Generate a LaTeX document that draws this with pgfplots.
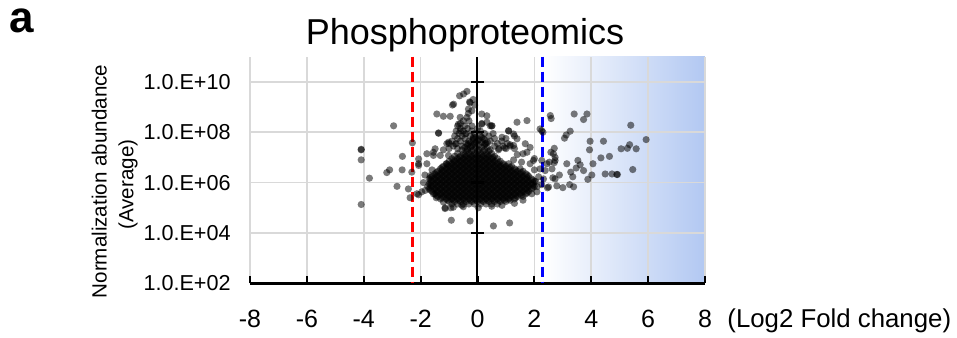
\documentclass[border=0pt]{standalone}
\usepackage{pgfplots}
\pgfplotsset{compat=1.18}
\usepackage{fontspec}
\setmainfont{Liberation Sans}
\definecolor{gblue}{RGB}{178,200,242}
\definecolor{gridgray}{RGB}{217,217,217}
\pgfplotsset{dots/.style={only marks, mark=*, mark size=1.8pt, draw=none, mark options={fill=black, draw opacity=0, fill opacity=0.52}}}
\begin{document}
\begin{tikzpicture}
\path (0,0) rectangle (478.5pt,-168.5pt);
\node[anchor=base west, inner sep=0pt, font=\fontsize{22pt}{25pt}\selectfont\bfseries] at (4.5pt,-16.2pt) {a};
\node[anchor=base, inner sep=0pt, font=\fontsize{18pt}{21pt}\selectfont] at (232.5pt,-22.3pt) {Phosphoproteomics};
\node[rotate=90, anchor=base, inner sep=0pt, font=\fontsize{10.3pt}{12pt}\selectfont] at (53.35pt,-90.75pt) {Normalization abundance};
\node[rotate=90, anchor=base, inner sep=0pt, font=\fontsize{10.3pt}{12pt}\selectfont] at (66.65pt,-92.3pt) {(Average)};
\node[anchor=base west, inner sep=0pt, font=\fontsize{12.9pt}{15pt}\selectfont] at (363.5pt,-163.6pt) {(Log2 Fold change)};
\begin{axis}[
  at={(125pt,-141.65pt)}, anchor=south west,
  width=227.5pt, height=113.3pt, scale only axis,
  set layers,
  ymode=log, xmin=-8, xmax=8, ymin=1e2, ymax=1e11,
  axis x line*=bottom, axis y line*=left,
  x axis line style={black, line width=1.2pt, -},
  y axis line style={draw=none},
  xtick={-8,-6,-4,-2,0,2,4,6,8},
  xticklabels={-8,-6,-4,-2,0,2,4,6,8},
  ytick={1e2,1e4,1e6,1e8,1e10},
  yticklabels={1.0.E+02,1.0.E+04,1.0.E+06,1.0.E+08,1.0.E+10},
  tick align=inside,
  major tick length=3.5pt,
  xtick style={black, line width=1.1pt},
  ytick style={draw=none},
  grid=major, major grid style={gridgray, line width=0.75pt},
  xticklabel style={anchor=base, inner sep=0pt, yshift=-21.9pt, font=\fontsize{12.5pt}{14pt}\selectfont},
  yticklabel style={anchor=east, inner sep=0pt, xshift=-9.5pt, font=\fontsize{10.8pt}{13pt}\selectfont},
  /pgf/number format/assume math mode=true,
]
\begin{pgfonlayer}{axis background}
\fill[left color=white, right color=gblue] (axis cs:2.3,1e2) rectangle (axis cs:8,1e11);
\end{pgfonlayer}
\draw[red, line width=1.45pt, dash pattern=on 5pt off 2.5pt] (axis cs:-2.27,1e11) -- (axis cs:-2.27,1e2);
\draw[blue, line width=1.45pt, dash pattern=on 5pt off 2.5pt] (axis cs:2.29,1e11) -- (axis cs:2.29,1e2);
% dense core
\addplot[dots] coordinates {
(-0.9,1.41e5) (-0.7,1.41e5) (-0.5,1.41e5) (-0.3,1.41e5) (-0.1,1.41e5) (0.1,1.41e5) (0.3,1.41e5) (0.5,1.41e5) (0.7,1.41e5)
(-1,1.78e5) (-0.8,1.78e5) (-0.6,1.78e5) (-0.4,1.78e5) (-0.2,1.78e5) (0,1.78e5) (0.2,1.78e5) (0.4,1.78e5) (0.6,1.78e5) (0.8,1.78e5) (1,1.78e5)
(-1.3,2.24e5) (-1.1,2.24e5) (-0.9,2.24e5) (-0.7,2.24e5) (-0.5,2.24e5) (-0.3,2.24e5) (-0.1,2.24e5) (0.1,2.24e5) (0.3,2.24e5) (0.5,2.24e5) (0.7,2.24e5) (0.9,2.24e5) (1.1,2.24e5) (1.3,2.24e5)
(-1.4,2.82e5) (-1.2,2.82e5) (-1,2.82e5) (-0.8,2.82e5) (-0.6,2.82e5) (-0.4,2.82e5) (-0.2,2.82e5) (0,2.82e5) (0.2,2.82e5) (0.4,2.82e5) (0.6,2.82e5) (0.8,2.82e5) (1,2.82e5) (1.2,2.82e5) (1.4,2.82e5) (1.6,2.82e5)
(-1.5,3.55e5) (-1.3,3.55e5) (-1.1,3.55e5) (-0.9,3.55e5) (-0.7,3.55e5) (-0.5,3.55e5) (-0.3,3.55e5) (-0.1,3.55e5) (0.1,3.55e5) (0.3,3.55e5) (0.5,3.55e5) (0.7,3.55e5) (0.9,3.55e5) (1.1,3.55e5) (1.3,3.55e5) (1.5,3.55e5) (1.7,3.55e5)
(-1.6,4.47e5) (-1.4,4.47e5) (-1.2,4.47e5) (-1,4.47e5) (-0.8,4.47e5) (-0.6,4.47e5) (-0.4,4.47e5) (-0.2,4.47e5) (0,4.47e5) (0.2,4.47e5) (0.4,4.47e5) (0.6,4.47e5) (0.8,4.47e5) (1,4.47e5) (1.2,4.47e5) (1.4,4.47e5) (1.6,4.47e5) (1.8,4.47e5)
(-1.7,5.62e5) (-1.5,5.62e5) (-1.3,5.62e5) (-1.1,5.62e5) (-0.9,5.62e5) (-0.7,5.62e5) (-0.5,5.62e5) (-0.3,5.62e5) (-0.1,5.62e5) (0.1,5.62e5) (0.3,5.62e5) (0.5,5.62e5) (0.7,5.62e5) (0.9,5.62e5) (1.1,5.62e5) (1.3,5.62e5) (1.5,5.62e5) (1.7,5.62e5) (1.9,5.62e5)
(-1.6,7.08e5) (-1.4,7.08e5) (-1.2,7.08e5) (-1,7.08e5) (-0.8,7.08e5) (-0.6,7.08e5) (-0.4,7.08e5) (-0.2,7.08e5) (0,7.08e5) (0.2,7.08e5) (0.4,7.08e5) (0.6,7.08e5) (0.8,7.08e5) (1,7.08e5) (1.2,7.08e5) (1.4,7.08e5) (1.6,7.08e5) (1.8,7.08e5) (2,7.08e5)
(-1.7,8.91e5) (-1.5,8.91e5) (-1.3,8.91e5) (-1.1,8.91e5) (-0.9,8.91e5) (-0.7,8.91e5) (-0.5,8.91e5) (-0.3,8.91e5) (-0.1,8.91e5) (0.1,8.91e5) (0.3,8.91e5) (0.5,8.91e5) (0.7,8.91e5) (0.9,8.91e5) (1.1,8.91e5) (1.3,8.91e5) (1.5,8.91e5) (1.7,8.91e5) (1.9,8.91e5)
(-1.6,1.12e6) (-1.4,1.12e6) (-1.2,1.12e6) (-1,1.12e6) (-0.8,1.12e6) (-0.6,1.12e6) (-0.4,1.12e6) (-0.2,1.12e6) (0,1.12e6) (0.2,1.12e6) (0.4,1.12e6) (0.6,1.12e6) (0.8,1.12e6) (1,1.12e6) (1.2,1.12e6) (1.4,1.12e6) (1.6,1.12e6) (1.8,1.12e6) (2,1.12e6)
(-1.7,1.41e6) (-1.5,1.41e6) (-1.3,1.41e6) (-1.1,1.41e6) (-0.9,1.41e6) (-0.7,1.41e6) (-0.5,1.41e6) (-0.3,1.41e6) (-0.1,1.41e6) (0.1,1.41e6) (0.3,1.41e6) (0.5,1.41e6) (0.7,1.41e6) (0.9,1.41e6) (1.1,1.41e6) (1.3,1.41e6) (1.5,1.41e6) (1.7,1.41e6) (1.9,1.41e6)
(-1.6,1.78e6) (-1.4,1.78e6) (-1.2,1.78e6) (-1,1.78e6) (-0.8,1.78e6) (-0.6,1.78e6) (-0.4,1.78e6) (-0.2,1.78e6) (0,1.78e6) (0.2,1.78e6) (0.4,1.78e6) (0.6,1.78e6) (0.8,1.78e6) (1,1.78e6) (1.2,1.78e6) (1.4,1.78e6) (1.6,1.78e6) (1.8,1.78e6)
(-1.5,2.24e6) (-1.3,2.24e6) (-1.1,2.24e6) (-0.9,2.24e6) (-0.7,2.24e6) (-0.5,2.24e6) (-0.3,2.24e6) (-0.1,2.24e6) (0.1,2.24e6) (0.3,2.24e6) (0.5,2.24e6) (0.7,2.24e6) (0.9,2.24e6) (1.1,2.24e6) (1.3,2.24e6) (1.5,2.24e6) (1.7,2.24e6)
(-1.4,2.82e6) (-1.2,2.82e6) (-1,2.82e6) (-0.8,2.82e6) (-0.6,2.82e6) (-0.4,2.82e6) (-0.2,2.82e6) (0,2.82e6) (0.2,2.82e6) (0.4,2.82e6) (0.6,2.82e6) (0.8,2.82e6) (1,2.82e6) (1.2,2.82e6) (1.4,2.82e6) (1.6,2.82e6)
(-1.3,3.55e6) (-1.1,3.55e6) (-0.9,3.55e6) (-0.7,3.55e6) (-0.5,3.55e6) (-0.3,3.55e6) (-0.1,3.55e6) (0.1,3.55e6) (0.3,3.55e6) (0.5,3.55e6) (0.7,3.55e6) (0.9,3.55e6) (1.1,3.55e6) (1.3,3.55e6) (1.5,3.55e6)
(-1.2,4.47e6) (-1,4.47e6) (-0.8,4.47e6) (-0.6,4.47e6) (-0.4,4.47e6) (-0.2,4.47e6) (0,4.47e6) (0.2,4.47e6) (0.4,4.47e6) (0.6,4.47e6) (0.8,4.47e6) (1,4.47e6) (1.2,4.47e6)
(-1.1,5.62e6) (-0.9,5.62e6) (-0.7,5.62e6) (-0.5,5.62e6) (-0.3,5.62e6) (-0.1,5.62e6) (0.1,5.62e6) (0.3,5.62e6) (0.5,5.62e6) (0.7,5.62e6) (0.9,5.62e6) (1.1,5.62e6)
(-1,7.08e6) (-0.8,7.08e6) (-0.6,7.08e6) (-0.4,7.08e6) (-0.2,7.08e6) (0,7.08e6) (0.2,7.08e6) (0.4,7.08e6) (0.6,7.08e6) (0.8,7.08e6)
(-0.9,8.91e6) (-0.7,8.91e6) (-0.5,8.91e6) (-0.3,8.91e6) (-0.1,8.91e6) (0.1,8.91e6) (0.3,8.91e6) (0.5,8.91e6) (0.7,8.91e6)
(-0.8,1.12e7) (-0.6,1.12e7) (-0.4,1.12e7) (-0.2,1.12e7) (0,1.12e7) (0.2,1.12e7) (0.4,1.12e7) (0.6,1.12e7)
(-0.7,1.41e7) (-0.5,1.41e7) (-0.3,1.41e7) (-0.1,1.41e7) (0.1,1.41e7) (0.3,1.41e7) (0.5,1.41e7)
(-0.4,1.78e7) (-0.2,1.78e7) (0,1.78e7) (0.2,1.78e7) (0.4,1.78e7)
};
% dense core, points in between
\addplot[dots] coordinates {
(-1.05,2.0e5) (-0.85,2.0e5) (-0.65,2.0e5) (-0.45,2.0e5) (-0.25,2.0e5) (-0.05,2.0e5) (0.15,2.0e5) (0.35,2.0e5) (0.55,2.0e5) (0.75,2.0e5) (0.95,2.0e5) (1.15,2.0e5)
(-1.25,2.51e5) (-1.05,2.51e5) (-0.85,2.51e5) (-0.65,2.51e5) (-0.45,2.51e5) (-0.25,2.51e5) (-0.05,2.51e5) (0.15,2.51e5) (0.35,2.51e5) (0.55,2.51e5) (0.75,2.51e5) (0.95,2.51e5) (1.15,2.51e5) (1.35,2.51e5)
(-1.45,3.16e5) (-1.25,3.16e5) (-1.05,3.16e5) (-0.85,3.16e5) (-0.65,3.16e5) (-0.45,3.16e5) (-0.25,3.16e5) (-0.05,3.16e5) (0.15,3.16e5) (0.35,3.16e5) (0.55,3.16e5) (0.75,3.16e5) (0.95,3.16e5) (1.15,3.16e5) (1.35,3.16e5) (1.55,3.16e5)
(-1.45,3.98e5) (-1.25,3.98e5) (-1.05,3.98e5) (-0.85,3.98e5) (-0.65,3.98e5) (-0.45,3.98e5) (-0.25,3.98e5) (-0.05,3.98e5) (0.15,3.98e5) (0.35,3.98e5) (0.55,3.98e5) (0.75,3.98e5) (0.95,3.98e5) (1.15,3.98e5) (1.35,3.98e5) (1.55,3.98e5) (1.75,3.98e5)
(-1.65,5.01e5) (-1.45,5.01e5) (-1.25,5.01e5) (-1.05,5.01e5) (-0.85,5.01e5) (-0.65,5.01e5) (-0.45,5.01e5) (-0.25,5.01e5) (-0.05,5.01e5) (0.15,5.01e5) (0.35,5.01e5) (0.55,5.01e5) (0.75,5.01e5) (0.95,5.01e5) (1.15,5.01e5) (1.35,5.01e5) (1.55,5.01e5) (1.75,5.01e5)
(-1.65,6.31e5) (-1.45,6.31e5) (-1.25,6.31e5) (-1.05,6.31e5) (-0.85,6.31e5) (-0.65,6.31e5) (-0.45,6.31e5) (-0.25,6.31e5) (-0.05,6.31e5) (0.15,6.31e5) (0.35,6.31e5) (0.55,6.31e5) (0.75,6.31e5) (0.95,6.31e5) (1.15,6.31e5) (1.35,6.31e5) (1.55,6.31e5) (1.75,6.31e5) (1.95,6.31e5)
(-1.65,7.94e5) (-1.45,7.94e5) (-1.25,7.94e5) (-1.05,7.94e5) (-0.85,7.94e5) (-0.65,7.94e5) (-0.45,7.94e5) (-0.25,7.94e5) (-0.05,7.94e5) (0.15,7.94e5) (0.35,7.94e5) (0.55,7.94e5) (0.75,7.94e5) (0.95,7.94e5) (1.15,7.94e5) (1.35,7.94e5) (1.55,7.94e5) (1.75,7.94e5) (1.95,7.94e5)
(-1.65,1.0e6) (-1.45,1.0e6) (-1.25,1.0e6) (-1.05,1.0e6) (-0.85,1.0e6) (-0.65,1.0e6) (-0.45,1.0e6) (-0.25,1.0e6) (-0.05,1.0e6) (0.15,1.0e6) (0.35,1.0e6) (0.55,1.0e6) (0.75,1.0e6) (0.95,1.0e6) (1.15,1.0e6) (1.35,1.0e6) (1.55,1.0e6) (1.75,1.0e6) (1.95,1.0e6)
(-1.65,1.26e6) (-1.45,1.26e6) (-1.25,1.26e6) (-1.05,1.26e6) (-0.85,1.26e6) (-0.65,1.26e6) (-0.45,1.26e6) (-0.25,1.26e6) (-0.05,1.26e6) (0.15,1.26e6) (0.35,1.26e6) (0.55,1.26e6) (0.75,1.26e6) (0.95,1.26e6) (1.15,1.26e6) (1.35,1.26e6) (1.55,1.26e6) (1.75,1.26e6) (1.95,1.26e6)
(-1.65,1.58e6) (-1.45,1.58e6) (-1.25,1.58e6) (-1.05,1.58e6) (-0.85,1.58e6) (-0.65,1.58e6) (-0.45,1.58e6) (-0.25,1.58e6) (-0.05,1.58e6) (0.15,1.58e6) (0.35,1.58e6) (0.55,1.58e6) (0.75,1.58e6) (0.95,1.58e6) (1.15,1.58e6) (1.35,1.58e6) (1.55,1.58e6) (1.75,1.58e6)
(-1.45,2.0e6) (-1.25,2.0e6) (-1.05,2.0e6) (-0.85,2.0e6) (-0.65,2.0e6) (-0.45,2.0e6) (-0.25,2.0e6) (-0.05,2.0e6) (0.15,2.0e6) (0.35,2.0e6) (0.55,2.0e6) (0.75,2.0e6) (0.95,2.0e6) (1.15,2.0e6) (1.35,2.0e6) (1.55,2.0e6) (1.75,2.0e6)
(-1.45,2.51e6) (-1.25,2.51e6) (-1.05,2.51e6) (-0.85,2.51e6) (-0.65,2.51e6) (-0.45,2.51e6) (-0.25,2.51e6) (-0.05,2.51e6) (0.15,2.51e6) (0.35,2.51e6) (0.55,2.51e6) (0.75,2.51e6) (0.95,2.51e6) (1.15,2.51e6) (1.35,2.51e6) (1.55,2.51e6)
(-1.25,3.16e6) (-1.05,3.16e6) (-0.85,3.16e6) (-0.65,3.16e6) (-0.45,3.16e6) (-0.25,3.16e6) (-0.05,3.16e6) (0.15,3.16e6) (0.35,3.16e6) (0.55,3.16e6) (0.75,3.16e6) (0.95,3.16e6) (1.15,3.16e6) (1.35,3.16e6)
(-1.25,3.98e6) (-1.05,3.98e6) (-0.85,3.98e6) (-0.65,3.98e6) (-0.45,3.98e6) (-0.25,3.98e6) (-0.05,3.98e6) (0.15,3.98e6) (0.35,3.98e6) (0.55,3.98e6) (0.75,3.98e6) (0.95,3.98e6) (1.15,3.98e6)
(-1.05,5.01e6) (-0.85,5.01e6) (-0.65,5.01e6) (-0.45,5.01e6) (-0.25,5.01e6) (-0.05,5.01e6) (0.15,5.01e6) (0.35,5.01e6) (0.55,5.01e6) (0.75,5.01e6) (0.95,5.01e6)
(-0.85,6.31e6) (-0.65,6.31e6) (-0.45,6.31e6) (-0.25,6.31e6) (-0.05,6.31e6) (0.15,6.31e6) (0.35,6.31e6) (0.55,6.31e6) (0.75,6.31e6)
(-0.85,7.94e6) (-0.65,7.94e6) (-0.45,7.94e6) (-0.25,7.94e6) (-0.05,7.94e6) (0.15,7.94e6) (0.35,7.94e6) (0.55,7.94e6)
(-0.65,1.0e7) (-0.45,1.0e7) (-0.25,1.0e7) (-0.05,1.0e7) (0.15,1.0e7) (0.35,1.0e7) (0.55,1.0e7)
(-0.45,1.26e7) (-0.25,1.26e7) (-0.05,1.26e7) (0.15,1.26e7) (0.35,1.26e7)
(-0.55,2.0e7) (-0.35,2.0e7) (-0.15,2.0e7) (0.05,2.0e7) (0.25,2.0e7) (0.45,2.0e7)
(-0.45,2.51e7) (-0.25,2.51e7) (-0.05,2.51e7) (0.15,2.51e7) (0.35,2.51e7)
(-0.35,3.16e7) (-0.15,3.16e7) (0.05,3.16e7) (0.25,3.16e7)
(-0.25,3.98e7) (-0.05,3.98e7) (0.15,3.98e7) (0.35,3.98e7)
(-0.15,5.01e7) (0.05,5.01e7) (0.25,5.01e7) (-0.05,6.31e7) (0.15,6.31e7)
};
% upper, less dense part of the cloud
\addplot[dots] coordinates {
(-1.0,2.24e7) (-0.7,2.24e7) (-0.35,2.24e7) (0.75,2.24e7) (1.0,2.24e7) (1.3,2.24e7)
(-0.85,2.82e7) (-0.55,2.82e7) (-0.2,2.82e7) (0.6,2.82e7) (0.9,2.82e7) (1.15,2.82e7)
(-1.0,3.55e7) (-0.75,3.55e7) (-0.4,3.55e7) (-0.1,3.55e7) (0.3,3.55e7) (0.7,3.55e7) (1.05,3.55e7)
(-0.9,4.47e7) (-0.6,4.47e7) (-0.3,4.47e7) (0.0,4.47e7) (0.45,4.47e7) (0.85,4.47e7)
(-0.7,5.62e7) (-0.45,5.62e7) (-0.15,5.62e7) (0.2,5.62e7) (0.6,5.62e7) (1.0,5.62e7)
(-0.8,7.08e7) (-0.55,7.08e7) (-0.25,7.08e7) (0.1,7.08e7) (0.4,7.08e7) (1.3,7.08e7)
(-0.65,8.91e7) (-0.4,8.91e7) (-0.1,8.91e7) (0.25,8.91e7) (0.55,8.91e7)
(-0.75,1.12e8) (-0.5,1.12e8) (-0.2,1.12e8) (0.1,1.12e8) (1.1,1.12e8)
(-0.6,1.41e8) (-0.35,1.41e8) (0.0,1.41e8)
(-0.7,1.78e8) (-0.45,1.78e8) (-0.2,1.78e8) (0.5,1.78e8)
(-0.6,2.24e8) (0.15,2.24e8) (-0.5,2.82e8) (-0.3,2.82e8)
(-1.43,5.3e8) (-1.2,4.3e8) (-0.96,4.3e8) (-0.37,3.9e8) (-0.61,3.9e8) (0.33,4.5e8) (0.33,2.5e8) (0.15,2.1e8) (0.51,1.8e8)
(-1.37,9.1e7) (-0.67,2.1e8) (-0.6,1.15e8) (-0.43,8.5e7) (-1.02,4.0e7) (-0.78,3.4e7) (-0.32,3.5e7) (0.27,3.5e7)
(0.86,6.3e7) (1.09,1.15e8) (1.27,8.5e7) (1.39,5.5e7) (1.68,3.5e7) (1.27,3.0e7) (0.74,2.0e7) (0.95,2.4e7) (1.15,3.2e7)
(1.4,1.3e7) (1.6,1.4e7) (1.85,2.5e7) (2.0,9e6) (1.27,8e6) (1.55,6.5e6) (1.85,5.6e6) (2.0,3.2e6) (2.15,1.7e6) (2.2,3.5e6)
(-2.07,5.6e6) (-1.78,5.6e6) (-1.55,1.6e7) (-1.55,1.2e7) (-1.66,1.9e6) (-1.96,4.3e5) (-2.13,3.6e5) (-1.02,1.2e7) (-1.31,1.2e7) (-1.08,5.6e6)
(-1.14,1.0e5) (-0.85,1.05e5) (-0.5,1.1e5) (0.03,1.0e5) (0.5,1.15e5) (0.86,1.25e5)
};
% scattered points
\addplot[dots] coordinates {
(-2.95,1.8e8) (-4.09,2.0e7) (-4.09,2.1e7) (-4.09,8e6) (-2.29,3.8e7) (-2.64,1.1e7) (-2.07,8.7e6) (-2.07,4.8e6)
(-3.09,3.2e6) (-3.19,2.5e6) (-2.65,3.2e6) (-2.31,2.6e6) (-3.80,1.5e6) (-2.83,7.1e5) (-2.43,5.6e5) (-2.37,2.5e5)
(-2.07,3.3e5) (-4.09,1.35e5) (-1.37,9.4e7) (-0.84,1.3e9)
(-0.63,2.8e9) (-0.49,3.3e9) (-0.37,4.2e9) (-0.88,1.2e9) (-0.28,1.6e9) (-0.26,1.5e9) (-0.32,8.3e8) (-0.32,5.6e8)
(-1.08,3.5e7) (-1.20,2.0e7) (-1.49,2.2e7) (-1.78,1.4e7)
(-0.14,6.3e7) (-1.84,4.9e5) (-1.14,9.3e4)
(-0.94,1.0e5) (-0.92,3.2e4) (-0.26,3.0e4) (-0.55,1.26e5) (-1.20,1.7e5) (-1.55,3.6e5) (-1.85,2.0e6) (-1.9,1.0e6)
(-1.75,7e5) (-1.45,2.5e5) (-1.6,3.2e6) (-0.15,2.0e9) (-0.1,1.2e9) (-0.2,7.1e8)
(0.56,1.9e4) (1.13,2.5e4) (2.09,4.3e5) (1.91,3.6e5) (2.5,6.7e5) (2.73,1.4e6) (2.62,3.5e6) (2.44,5.6e6)
(2.56,4.6e8) (2.59,3.5e8) (2.26,1.15e8) (1.74,2.9e8) (1.39,2.5e8) (0.15,5.3e8)
(0.45,1.8e8) (1.74,1.6e7) (1.97,7.6e6) (2.26,7.6e6)
(2.67,1.4e7) (2.73,7.6e6) (3.40,5.3e8) (3.85,5.3e8) (3.73,3.2e8) (5.39,1.9e8) (2.30,1.0e8) (3.26,1.1e8)
(3.12,7.8e7) (3.06,5.8e7) (3.96,4.4e7) (4.43,4.4e7) (3.94,2.0e7) (5.93,5.1e7) (5.05,2.2e7) (5.27,2.3e7)
(5.35,3.2e7) (5.58,2.2e7) (2.70,2.3e7) (2.58,1.6e7) (2.73,1.0e7) (4.34,9.6e6) (4.64,1.1e7) (2.53,6.5e6)
(2.70,6.2e6) (3.14,5.6e6) (3.53,7.6e6) (3.61,5.1e6) (4.06,5.6e6) (3.47,3.8e6) (3.73,3.0e6) (3.28,2.6e6)
(2.88,2.0e6) (3.35,1.7e6) (4.02,2.0e6) (4.49,2.2e6) (4.73,2.2e6) (4.90,2.1e6) (4.92,2.1e6) (5.46,3.3e6)
(3.88,1.35e6) (2.65,1.55e6) (2.46,6.2e5) (2.79,7.4e5) (3.0,6.3e5) (3.24,8.3e5) (3.38,6.8e5) (2.38,3.0e6)
(2.32,1.4e6) (2.26,8.3e5) (2.2,1.35e8) (2.1,7e5) (1.6,2.0e5) (1.3,1.5e5) (2.05,1.1e6)
};
\draw[black, line width=1pt] (axis cs:0,1e2) -- (axis cs:0,1e11);
\draw[black, line width=1.2pt] ([xshift=-3.3pt]axis cs:0,1e4) -- ([xshift=3.3pt]axis cs:0,1e4);
\draw[black, line width=1.2pt] ([xshift=-3.3pt]axis cs:0,1e6) -- ([xshift=3.3pt]axis cs:0,1e6);
\draw[black, line width=1.2pt] ([xshift=-3.3pt]axis cs:0,1e8) -- ([xshift=3.3pt]axis cs:0,1e8);
\draw[black, line width=1.2pt] ([xshift=-3.3pt]axis cs:0,1e10) -- ([xshift=3.3pt]axis cs:0,1e10);
\end{axis}
\end{tikzpicture}
\end{document}
